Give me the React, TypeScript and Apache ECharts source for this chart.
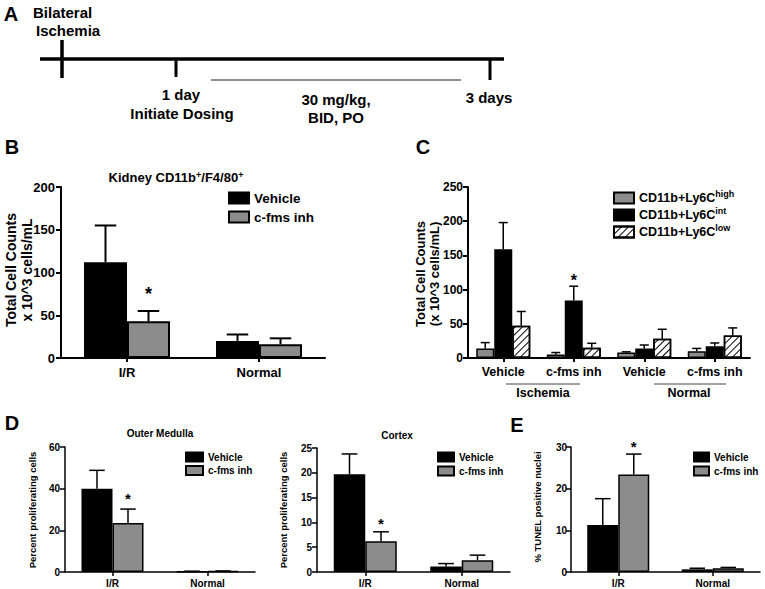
import React, { useEffect, useRef } from "react";
import * as echarts from "echarts";

const FONT = '"Liberation Sans", Arial, Helvetica, sans-serif';
const GRAY = "#8c8c8c";

// Panel B
const bCategories = ["I/R", "Normal"];
const bVehicle = [112, 20];
const bVehicleSem = [43, 7.5];
const bInh = [43, 16];
const bInhSem = [12, 7];
const bInhStars = [1, 0];

// Panel C
const cCategories = ["c0", "c1", "c2", "c3"];
const cLabels = ["Vehicle", "c-fms inh", "Vehicle", "c-fms inh"];
const cHigh = [14, 5, 8, 10];
const cHighSem = [8.5, 3, 1, 4];
const cInt = [159, 84, 14, 17];
const cIntSem = [39, 21, 5, 5];
const cIntStars = [0, 1, 0, 0];
const cLow = [47, 15, 28, 33];
const cLowSem = [21, 6.5, 14, 11];

// Panel D (outer medulla)
const dCategories = ["I/R", "Normal"];
const dmVehicle = [40, 0.3];
const dmVehicleSem = [8.8, 0.1];
const dmInh = [23.5, 0.4];
const dmInhSem = [6.7, 0.1];
const dmInhStars = [1, 0];

// Panel D (cortex)
const dcVehicle = [19.7, 1.1];
const dcVehicleSem = [4.1, 0.6];
const dcInh = [6.2, 2.35];
const dcInhSem = [1.9, 1.05];
const dcInhStars = [1, 0];

// Panel E
const eCategories = ["I/R", "Normal"];
const eVehicle = [11.3, 0.64];
const eVehicleSem = [6.3, 0.26];
const eInh = [23.4, 0.9];
const eInhSem = [4.9, 0.2];
const eInhStars = [1, 0];

const none = [0, 0, 0, 0];

function yAxis(gi: number, max: number, interval: number, fontSize: number, lw: number, margin: number) {
  return {
    type: "value",
    gridIndex: gi,
    min: 0,
    max,
    interval,
    axisLine: { show: true, lineStyle: { color: "#000", width: lw } },
    axisTick: { show: true, length: 5, lineStyle: { color: "#000", width: lw } },
    splitLine: { show: false },
    axisLabel: { color: "#000", fontWeight: "bold", fontSize, fontFamily: FONT, margin },
  };
}

function xAxis(gi: number, data: string[], fontSize: number, lw: number, margin: number, labels?: string[]) {
  return {
    type: "category",
    gridIndex: gi,
    data,
    axisLine: { show: true, lineStyle: { color: "#000", width: lw } },
    axisTick: { show: true, alignWithLabel: true, length: 4, lineStyle: { color: "#000", width: lw } },
    axisLabel: {
      color: "#000",
      fontWeight: "bold",
      fontSize,
      fontFamily: FONT,
      margin,
      interval: 0,
      formatter: labels ? (_v: string, i: number) => labels[i] : undefined,
    },
  };
}

function bar(name: string, gi: number, data: number[], color: string, bw: number, blw: number, decal?: any) {
  return {
    type: "bar",
    name,
    xAxisIndex: gi,
    yAxisIndex: gi,
    data,
    barWidth: bw,
    barGap: "0%",
    itemStyle: { color, borderColor: "#000", borderWidth: blw, ...(decal ? { decal } : {}) },
  };
}

function err(
  gi: number,
  vals: number[],
  sems: number[],
  stars: number[],
  idx: number,
  n: number,
  bw: number,
  lw: number,
  starSize: number,
  starGap: number
) {
  return {
    type: "custom",
    xAxisIndex: gi,
    yAxisIndex: gi,
    z: 3,
    data: vals.map((v, i) => [i, v, v + sems[i], stars[i]]),
    renderItem: (_p: any, api: any) => {
      const c = api.value(0);
      const v = api.value(1);
      const t = api.value(2);
      const s = api.value(3);
      const p0 = api.coord([c, v]);
      const p1 = api.coord([c, t]);
      const x = p0[0] + (idx - (n - 1) / 2) * bw;
      const half = bw / 4;
      const children: any[] = [
        { type: "line", shape: { x1: x, y1: p0[1], x2: x, y2: p1[1] }, style: { stroke: "#000", lineWidth: lw } },
        { type: "line", shape: { x1: x - half, y1: p1[1], x2: x + half, y2: p1[1] }, style: { stroke: "#000", lineWidth: lw } },
      ];
      if (s) {
        children.push({
          type: "text",
          x,
          y: p1[1] - starGap,
          style: {
            text: "*",
            fontSize: starSize,
            fontWeight: "bold",
            fontFamily: FONT,
            fill: "#000",
            align: "center",
            verticalAlign: "middle",
          },
        });
      }
      return { type: "group", children };
    },
  };
}

function txt(x: number, y: number, text: string, fontSize: number, align = "center", extra: any = {}) {
  return {
    type: "text",
    x,
    y,
    rotation: extra.rotation || 0,
    style: {
      text,
      fontSize,
      fontWeight: "bold",
      fontFamily: FONT,
      fill: "#000",
      align,
      verticalAlign: "middle",
      lineHeight: extra.lineHeight,
      rich: extra.rich,
    },
  };
}

function ln(x1: number, y1: number, x2: number, y2: number, w: number, color = "#000") {
  return { type: "line", shape: { x1, y1, x2, y2 }, style: { stroke: color, lineWidth: w } };
}

const hatch = {
  symbol: "rect",
  symbolSize: 1,
  color: "#000",
  dashArrayX: [1, 0],
  dashArrayY: [1, 3.5],
  rotation: -Math.PI / 4,
};

export default function App() {
  const ref = useRef<HTMLDivElement>(null);
  useEffect(() => {
    if (!ref.current) return;
    const chart = echarts.init(ref.current, undefined, { renderer: "svg" });
    const supRich = {
      sup: { fontSize: 9, lineHeight: 10, fontWeight: "bold", fontFamily: FONT, verticalAlign: "top" },
    };
    const legendText = (fontSize: number, lineHeight: number) => ({
      color: "#000",
      fontWeight: "bold",
      fontSize,
      fontFamily: FONT,
      lineHeight,
    });
    const option: any = {
      animation: false,
      backgroundColor: "#fff",
      grid: [
        { left: 61, top: 187, width: 264, height: 171 },
        { left: 468, top: 187, width: 282, height: 171 },
        { left: 65, top: 447, width: 190, height: 125 },
        { left: 317, top: 448, width: 193, height: 124 },
        { left: 571, top: 447, width: 189, height: 125 },
      ],
      xAxis: [
        xAxis(0, bCategories, 13, 2, 8),
        xAxis(1, cCategories, 12.5, 2, 7, cLabels),
        xAxis(2, dCategories, 10, 1.5, 6),
        xAxis(3, dCategories, 10, 1.5, 6),
        xAxis(4, eCategories, 10, 1.5, 6),
      ],
      yAxis: [
        yAxis(0, 200, 50, 13, 2, 6),
        yAxis(1, 250, 50, 12, 2, 5),
        yAxis(2, 60, 20, 10, 1.5, 5),
        yAxis(3, 25, 5, 10, 1.5, 5),
        yAxis(4, 30, 10, 10, 1.5, 4),
      ],
      legend: [
        {
          left: 228, top: 190.5, padding: 0, orient: "vertical", icon: "rect", itemWidth: 20, itemHeight: 11, itemGap: 4,
          data: ["Vehicle", "c-fms inh"], textStyle: legendText(13.5, 15), selectedMode: false,
        },
        {
          left: 613, top: 189.5, padding: 0, orient: "vertical", icon: "rect", itemWidth: 20, itemHeight: 11, itemGap: 0,
          data: ["high", "int", "low"], selectedMode: false,
          formatter: (n: string) => "CD11b+Ly6C{sup|" + n + "}",
          textStyle: { ...legendText(12.5, 17), rich: supRich },
        },
        {
          left: 185, top: 451.5, padding: 0, orient: "vertical", icon: "rect", itemWidth: 17, itemHeight: 9, itemGap: 2.5,
          data: ["Vehicle", "c-fms inh"], textStyle: legendText(10, 11), selectedMode: false,
        },
        {
          left: 437, top: 451.5, padding: 0, orient: "vertical", icon: "rect", itemWidth: 16, itemHeight: 9, itemGap: 3,
          data: ["Vehicle", "c-fms inh"], textStyle: legendText(10, 11), selectedMode: false,
        },
        {
          left: 693, top: 451.5, padding: 0, orient: "vertical", icon: "rect", itemWidth: 15, itemHeight: 9, itemGap: 3,
          data: ["Vehicle", "c-fms inh"], textStyle: legendText(10, 11), selectedMode: false,
        },
      ],
      series: [
        bar("Vehicle", 0, bVehicle, "#000", 43, 2),
        bar("c-fms inh", 0, bInh, GRAY, 43, 2),
        err(0, bVehicle, bVehicleSem, [0, 0], 0, 2, 43, 2, 18, 17),
        err(0, bInh, bInhSem, bInhStars, 1, 2, 43, 2, 18, 17),

        bar("high", 1, cHigh, GRAY, 18, 1.5),
        bar("int", 1, cInt, "#000", 18, 1.5),
        bar("low", 1, cLow, "#fff", 18, 1.5, hatch),
        err(1, cHigh, cHighSem, none, 0, 3, 18, 1.5, 16, 6),
        err(1, cInt, cIntSem, cIntStars, 1, 3, 18, 1.5, 16, 6),
        err(1, cLow, cLowSem, none, 2, 3, 18, 1.5, 16, 6),

        bar("Vehicle", 2, dmVehicle, "#000", 31, 1.5),
        bar("c-fms inh", 2, dmInh, GRAY, 31, 1.5),
        err(2, dmVehicle, dmVehicleSem, [0, 0], 0, 2, 31, 1.5, 15, 11),
        err(2, dmInh, dmInhSem, dmInhStars, 1, 2, 31, 1.5, 15, 11),

        bar("Vehicle", 3, dcVehicle, "#000", 31.5, 1.5),
        bar("c-fms inh", 3, dcInh, GRAY, 31.5, 1.5),
        err(3, dcVehicle, dcVehicleSem, [0, 0], 0, 2, 31.5, 1.5, 15, 8.5),
        err(3, dcInh, dcInhSem, dcInhStars, 1, 2, 31.5, 1.5, 15, 8.5),

        bar("Vehicle", 4, eVehicle, "#000", 31, 1.5),
        bar("c-fms inh", 4, eInh, GRAY, 31, 1.5),
        err(4, eVehicle, eVehicleSem, [0, 0], 0, 2, 31, 1.5, 15, 7.5),
        err(4, eInh, eInhSem, eInhStars, 1, 2, 31, 1.5, 15, 7.5),
      ],
      graphic: [
        // Panel A timeline
        ln(40, 59, 504, 59, 3.5),
        ln(62, 40, 62, 78, 3.5),
        ln(176, 59, 176, 77, 3),
        ln(490, 59, 490, 80, 3),
        ln(211, 80, 461, 80, 1.2, "#222"),
        txt(11, 14, "A", 20),
        txt(33, 12, "Bilateral", 15, "left"),
        txt(36, 30, "Ischemia", 15, "left"),
        txt(181, 94, "1 day", 15),
        txt(182, 113, "Initiate Dosing", 15),
        txt(336, 99, "30 mg/kg,", 15),
        txt(336, 117, "BID, PO", 15),
        txt(489, 97, "3 days", 15),
        // Panel letters
        txt(12, 147, "B", 20),
        txt(423, 147, "C", 20),
        txt(12, 423, "D", 20),
        txt(517, 425, "E", 20),
        // Titles
        txt(176, 177, "Kidney CD11b{sup|+}/F4/80{sup|+}", 13, "center", {
          rich: { sup: { fontSize: 9, fontWeight: "bold", fontFamily: FONT, verticalAlign: "top" } },
        }),
        txt(160, 433, "Outer Medulla", 10),
        txt(397, 435, "Cortex", 10),
        // Y titles
        txt(19, 270, "Total Cell Counts\nx 10^3 cells/mL", 14, "center", { rotation: Math.PI / 2, lineHeight: 16 }),
        txt(427.5, 274, "Total Cell Counts\n(x 10^3 cells/mL)", 13, "center", { rotation: Math.PI / 2, lineHeight: 13.5 }),
        txt(32, 510, "Percent proliferating cells", 9.5, "center", { rotation: Math.PI / 2 }),
        txt(283, 510, "Percent proliferating cells", 9.5, "center", { rotation: Math.PI / 2 }),
        txt(537, 507, "% TUNEL positive nuclei", 9.5, "center", { rotation: Math.PI / 2 }),
        // Panel C groups
        ln(506, 384, 580, 384, 1, "#444"),
        ln(654, 384, 726, 384, 1, "#444"),
        txt(543, 393, "Ischemia", 12.5),
        txt(689, 393, "Normal", 12.5),
      ],
    };
    chart.setOption(option);
    return () => chart.dispose();
  }, []);
  return (
    <div
      ref={ref}
      style={{ position: "absolute", left: 0, top: 0, width: 765, height: 589, background: "#fff" }}
    />
  );
}
